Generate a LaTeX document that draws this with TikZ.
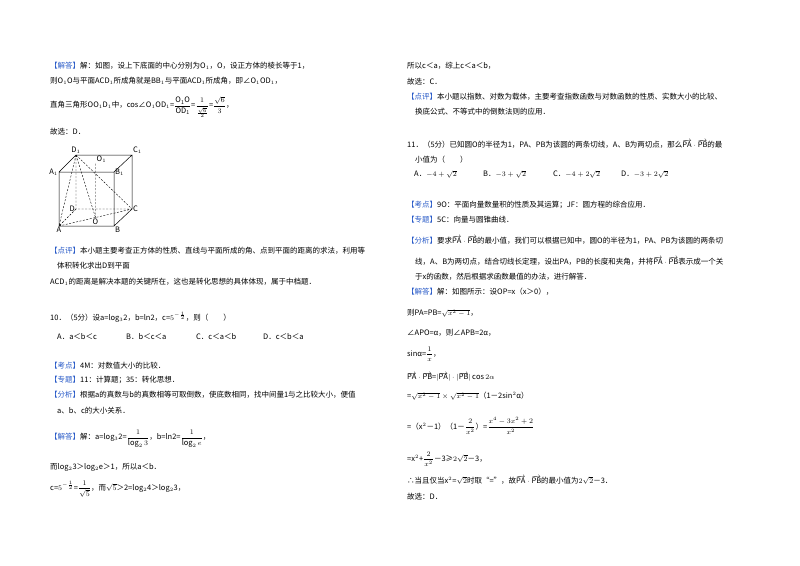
\documentclass[tikz,border=0pt]{standalone}
\usepackage{fontspec}
\setmainfont{Noto Sans CJK SC}
\tikzset{
 t/.style={anchor=west,inner sep=0pt,font=\fontsize{7.5}{9}\selectfont},
 lab/.style={inner sep=1pt,font=\fontsize{7.5}{9}\selectfont\itshape},
 hid/.style={dashed,dash pattern=on 2pt off 1.5pt,line width=0.4pt},
 edge/.style={line width=0.5pt}
}
\newcommand{\tg}[1]{\textcolor{tagblue}{【#1】}}
\definecolor{tagblue}{RGB}{40,90,200}
\newcommand{\vv}[1]{\overrightarrow{\mathrm{#1}}}
\newcommand{\df}[2]{{\displaystyle\frac{#1}{#2}}}
\begin{document}
\begin{tikzpicture}[x=1pt,y=-1pt]
\useasboundingbox (0,0) rectangle (800,565);
\fill[white] (0,0) rectangle (800,565);
% left column
\node[t] (l1) at (50,66) {\tg{解答}解：如图，设上下底面的中心分别为O$_1$，O，设正方体的棱长等于1，};
\node[t] (l2) at (50,81) {则O$_1$O与平面ACD$_1$所成角就是BB$_1$与平面ACD$_1$所成角，即∠O$_1$OD$_1$，};
\node[t] (l3) at (50,107) {直角三角形OO$_1$D$_1$中，cos∠O$_1$OD$_1$=$\df{\mathrm{O_1O}}{\mathrm{OD_1}}$=$\df{1}{\frac{\sqrt6}{2}}$=$\df{\sqrt6}{3}$，};
\node[t] (l4) at (50,132) {故选：D．};
% cube
\coordinate (A) at (59,226); \coordinate (B) at (114,226);
\coordinate (A1) at (59,172); \coordinate (B1) at (114,172);
\coordinate (D) at (76,209); \coordinate (C) at (132,209);
\coordinate (D1) at (76,155); \coordinate (C1) at (132,155);
\coordinate (O) at (95.5,217.5); \coordinate (O1) at (95.5,163.5);
\draw[edge] (A)--(B)--(B1)--(A1)--cycle (A1)--(D1)--(C1)--(B1) (C1)--(C)--(B);
\draw[hid] (D1)--(D)--(C) (D)--(A) (D1)--(A) (D1)--(O) (D1)--(C) (A)--(C) (O1)--(O);
\node[lab,above] (nD1) at (D1) {D$_1$}; \node[lab,above right] (nC1) at (C1) {C$_1$};
\node[lab,left] (nA1) at (A1) {A$_1$}; \node[lab,right] (nB1) at (B1) {B$_1$};
\node[lab,below] (nA) at (A) {A}; \node[lab,below right] (nB) at (B) {B};
\node[lab,left] (nD) at (D) {D}; \node[lab,right] (nC) at (C) {C};
\node[lab,below] (nO) at (O) {O}; \node[lab,above right] (nO1) at (O1) {O$_1$};
\node[t] (l5) at (50,251) {\tg{点评}本小题主要考查正方体的性质、直线与平面所成的角、点到平面的距离的求法，利用等};
\node[t] (l6) at (57,266) {体积转化求出D到平面};
\node[t] (l7) at (50,282) {ACD$_1$的距离是解决本题的关键所在，这也是转化思想的具体体现，属于中档题．};
\node[t] (l8) at (50,317) {10．（5分）设a=log$_3$2，b=ln2，c=$5^{-\frac12}$，则（\quad\quad）};
\node[t] (l9) at (57,337) {A．a＜b＜c};
\node[t] (l10) at (126,337) {B．b＜c＜a};
\node[t] (l11) at (196,337) {C．c＜a＜b};
\node[t] (l12) at (263,337) {D．c＜b＜a};
\node[t] (l13) at (50,366) {\tg{考点}4M：对数值大小的比较．};
\node[t] (l14) at (50,380) {\tg{专题}11：计算题；35：转化思想．};
\node[t] (l15) at (50,395) {\tg{分析}根据a的真数与b的真数相等可取倒数，使底数相同，找中间量1与之比较大小，便值};
\node[t] (l16) at (57,411) {a、b、c的大小关系．};
\node[t] (l17) at (50,439) {\tg{解答}解：a=log$_3$2=$\df{1}{\log_2 3}$，b=ln2=$\df{1}{\log_2 e}$，};
\node[t] (l18) at (50,467) {而log$_2$3＞log$_2$e＞1，所以a＜b．};
\node[t] (l19) at (50,489) {c=$5^{-\frac12}$=$\df{1}{\sqrt5}$，而$\sqrt5$＞2=log$_2$4＞log$_2$3，};
% right column
\node[t] (r1) at (407,66) {所以c＜a，综上c＜a＜b，};
\node[t] (r2) at (407,82) {故选：C．};
\node[t] (r3) at (407,97) {\tg{点评}本小题以指数、对数为载体，主要考查指数函数与对数函数的性质、实数大小的比较、};
\node[t] (r4) at (415,112) {换底公式、不等式中的倒数法则的应用．};
\node[t] (r5) at (407,144) {11．（5分）已知圆O的半径为1，PA、PB为该圆的两条切线，A、B为两切点，那么$\vv{PA}\cdot\vv{PB}$的最};
\node[t] (r6) at (415,160) {小值为（\quad\quad）};
\node[t] (r7) at (414,174) {A．$-4+\sqrt2$};
\node[t] (r8) at (483,174) {B．$-3+\sqrt2$};
\node[t] (r9) at (553,174) {C．$-4+2\sqrt2$};
\node[t] (r10) at (621,174) {D．$-3+2\sqrt2$};
\node[t] (r11) at (407,205) {\tg{考点}9O：平面向量数量积的性质及其运算；JF：圆方程的综合应用．};
\node[t] (r12) at (407,220) {\tg{专题}5C：向量与圆锥曲线．};
\node[t] (r13) at (407,240) {\tg{分析}要求$\vv{PA}\cdot\vv{PB}$的最小值，我们可以根据已知中，圆O的半径为1，PA、PB为该圆的两条切};
\node[t] (r14) at (415,261) {线，A、B为两切点，结合切线长定理，设出PA，PB的长度和夹角，并将$\vv{PA}\cdot\vv{PB}$表示成一个关};
\node[t] (r15) at (415,277) {于x的函数，然后根据求函数最值的办法，进行解答．};
\node[t] (r16) at (407,292) {\tg{解答}解：如图所示：设OP=x（x＞0），};
\node[t] (r17) at (407,313) {则PA=PB=$\sqrt{x^2-1}$，};
\node[t] (r18) at (407,333) {∠APO=α，则∠APB=2α，};
\node[t] (r19) at (407,354) {sinα=$\df{1}{x}$，};
\node[t] (r20) at (407,377) {$\vv{PA}\cdot\vv{PB}$=$|\vv{PA}|\cdot|\vv{PB}|\cos2\alpha$};
\node[t] (r21) at (407,396) {=$\sqrt{x^2-1}\times\sqrt{x^2-1}$（1－2sin$^2$α）};
\node[t] (r22) at (407,426) {=（x$^2$－1）（1－$\df{2}{x^2}$）=$\df{x^4-3x^2+2}{x^2}$};
\node[t] (r23) at (407,459) {=x$^2$+$\df{2}{x^2}$－3≥$2\sqrt2$－3，};
\node[t] (r24) at (407,480) {∴当且仅当x$^2$=$\sqrt2$时取“=”，故$\vv{PA}\cdot\vv{PB}$的最小值为$2\sqrt2$－3．};
\node[t] (r25) at (407,497) {故选：D．};
\end{tikzpicture}
\end{document}
